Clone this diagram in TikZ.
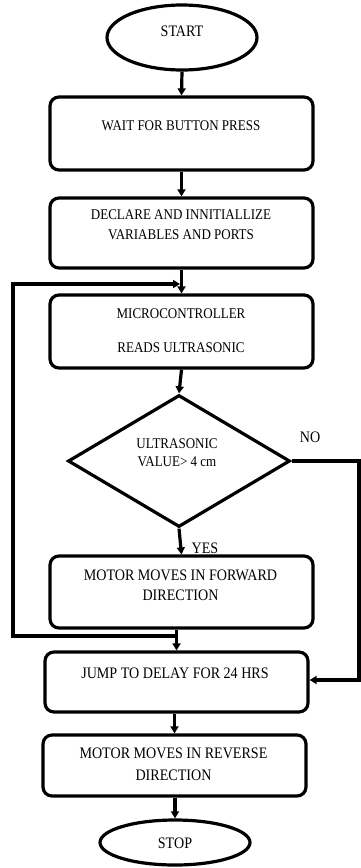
\documentclass[tikz,border=0pt]{standalone}
\usepackage{fontspec}
\setmainfont[FakeStretch=0.88]{Liberation Serif}
\usetikzlibrary{shapes.geometric,arrows.meta,calc}

\tikzset{
  stepbox/.style={draw, line width=3.2pt, rounded corners=9pt, minimum width=263pt, inner sep=0pt},
  terminal/.style={draw, ellipse, line width=3.2pt, minimum width=150pt, inner sep=0pt},
  decision/.style={draw, diamond, line width=3.2pt, minimum width=222pt, minimum height=132pt, inner sep=0pt},
  txt/.style={inner sep=0pt, align=center, font=\fontsize{16}{20}\selectfont},
  txtsm/.style={inner sep=0pt, align=center, font=\fontsize{14.8}{20}\selectfont},
  flow/.style={line width=3.2pt, -{Triangle[width=8pt,length=7pt]}}
}

\begin{document}
\begin{tikzpicture}[x=1pt,y=1pt]
  \useasboundingbox (0,0) rectangle (360,-868);

  % shapes
  \node[terminal, minimum height=65pt] (start) at (182,-37.5) {};
  \node[stepbox, minimum height=73pt] (b1) at (181.5,-133.5) {};
  \node[stepbox, minimum height=70pt] (b2) at (181.5,-233) {};
  \node[stepbox, minimum height=73pt] (b3) at (181.5,-331.5) {};
  \node[decision] (dia) at (179,-461) {};
  \node[stepbox, minimum height=72pt] (b4) at (181.5,-592) {};
  \node[stepbox, minimum height=60pt] (b5) at (176.5,-682) {};
  \node[stepbox, minimum height=61pt] (b6) at (174.5,-765.5) {};
  \node[terminal, minimum height=45pt] (stop) at (175,-842.5) {};

  % texts
  \node[txt] (tstart) at (182,-31) {START};
  \node[txtsm] (t1) at (181,-126) {WAIT FOR BUTTON PRESS};
  \node[txtsm] (t2) at (181,-225) {DECLARE AND INNITIALLIZE\\VARIABLES AND PORTS};
  \node[txtsm] (t3) at (181,-331) {MICROCONTROLLER\\[14pt]READS ULTRASONIC};
  \node[txtsm, font=\fontsize{14.8}{18}\selectfont] (tdia) at (177,-453) {ULTRASONIC\\VALUE> 4 cm};
  \node[txt] (t4) at (180.5,-585) {MOTOR MOVES IN FORWARD\\DIRECTION};
  \node[txt] (t5) at (175,-673) {JUMP TO DELAY FOR 24 HRS};
  \node[txt, font=\fontsize{16}{22}\selectfont] (t6) at (173.5,-764) {MOTOR MOVES IN REVERSE\\DIRECTION};
  \node[txt] (tstop) at (175,-843) {STOP};
  \node[txt] (yes) at (205,-548) {YES};
  \node[txt] (no) at (310,-437) {NO};

  % loop and branch corners
  \coordinate (jtop) at (180,-284);
  \coordinate (jbot) at (176.5,-636);
  \coordinate (ltop) at (13,-284);
  \coordinate (lbot) at (13,-636);
  \coordinate (rtop) at (359,-461);
  \coordinate (rbot) at (359,-680);

  % connectors
  \draw[flow] (start.south) -- (b1.north);
  \draw[flow] (b1.south) -- (b2.north);
  \draw[flow] (b2.south) -- (b3.north);
  \draw[flow] (b3.south) -- (dia.north);
  \draw[flow] (dia.south) -- (b4.north);
  \draw[flow] (b5.north |- b4.south) -- (b5.north);
  \draw[flow] (b6.north |- b5.south) -- (b6.north);
  \draw[flow] (stop.north |- b6.south) -- (stop.north);
  \draw[flow] (jbot) -- (lbot) -- (ltop) -- (jtop);
  \draw[flow] (dia.east) -- (rtop) -- (rbot) -- (b5.east |- rbot);
\end{tikzpicture}
\end{document}
